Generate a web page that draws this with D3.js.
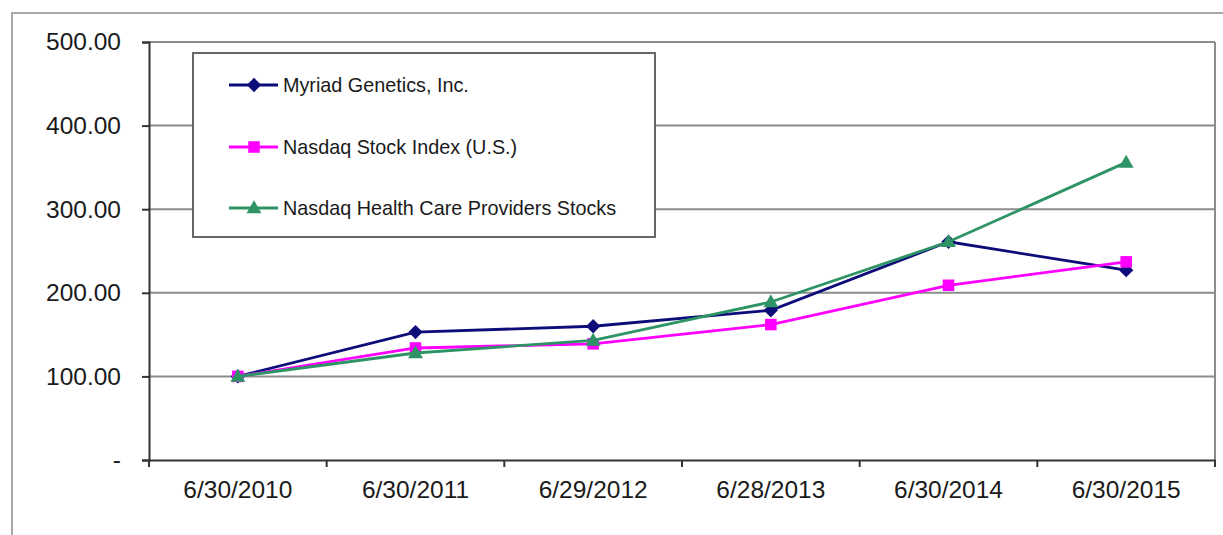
<!DOCTYPE html>
<html>
<head>
<meta charset="utf-8">
<script src="https://cdn.jsdelivr.net/npm/d3@7"></script>
<style>
  body { margin: 0; background: #fff; }
  svg { display: block; font-family: "Liberation Sans", Arial, sans-serif; }
</style>
</head>
<body>
<svg id="chart"></svg>
<script>
const dates = ["6/30/2010", "6/30/2011", "6/29/2012", "6/28/2013", "6/30/2014", "6/30/2015"];
const myriad = [100, 153, 160, 179, 261, 227];
const nasdaq = [100, 134, 139, 162, 209, 237];
const healthCare = [100, 128, 143, 189, 261, 356];
const yTicks = [0, 100, 200, 300, 400, 500];

const seriesList = [
  { name: "Myriad Genetics, Inc.", values: myriad, color: "#0d0d7a", marker: "diamond" },
  { name: "Nasdaq Stock Index (U.S.)", values: nasdaq, color: "#ff00ff", marker: "square" },
  { name: "Nasdaq Health Care Providers Stocks", values: healthCare, color: "#2e9466", marker: "triangle" }
];

const W = 1223, H = 535;
const plotLeft = 149, plotRight = 1215, plotTop = 42, plotBottom = 460;

const svg = d3.select("#chart").attr("width", W).attr("height", H);

// outer chart frame
svg.append("rect")
  .attr("x", 12).attr("y", 13)
  .attr("width", W + 20).attr("height", H + 20)
  .attr("fill", "none").attr("stroke", "#a8a8a8").attr("stroke-width", 2);

const x = d3.scaleBand().domain(dates).range([plotLeft, plotRight]);
const y = d3.scaleLinear().domain([0, 500]).range([plotBottom, plotTop]);

// gridlines
svg.append("g")
  .selectAll("line").data(yTicks.filter(d => d > 0)).join("line")
  .attr("x1", plotLeft).attr("x2", plotRight)
  .attr("y1", d => y(d)).attr("y2", d => y(d))
  .attr("stroke", "#8c8c8c").attr("stroke-width", 2);

// right border of plot
svg.append("line")
  .attr("x1", plotRight).attr("x2", plotRight).attr("y1", plotTop).attr("y2", plotBottom)
  .attr("stroke", "#8c8c8c").attr("stroke-width", 2);

// y axis
const yAxis = svg.append("g")
  .attr("transform", `translate(${plotLeft},0)`)
  .call(d3.axisLeft(y).tickValues(yTicks).tickSize(7).tickPadding(21)
    .tickFormat(d => d === 0 ? "-" : d.toFixed(2)));
yAxis.select(".domain").attr("stroke", "#333").attr("stroke-width", 2);
yAxis.selectAll(".tick line").attr("stroke", "#333").attr("stroke-width", 2);
yAxis.selectAll(".tick text")
  .attr("font-size", 24.5).attr("fill", "#1a1a1a")
  .attr("font-family", "'Liberation Sans', Arial, sans-serif");

// x axis: labels at band centers, ticks at band edges
const xAxis = svg.append("g")
  .attr("transform", `translate(0,${plotBottom})`)
  .call(d3.axisBottom(x).tickSize(0).tickPadding(21));
xAxis.select(".domain").attr("stroke", "#333").attr("stroke-width", 2);
xAxis.selectAll(".tick text")
  .attr("font-size", 24.5).attr("fill", "#1a1a1a")
  .attr("font-family", "'Liberation Sans', Arial, sans-serif");

const edges = dates.map(d => x(d)).concat([x.range()[1]]);
xAxis.selectAll("line.edge").data(edges).join("line")
  .attr("class", "edge")
  .attr("x1", d => d).attr("x2", d => d)
  .attr("y1", 0).attr("y2", 7)
  .attr("stroke", "#333").attr("stroke-width", 2);

const cx = d => x(d) + x.bandwidth() / 2;

function markerPath(type) {
  if (type === "diamond") return d3.symbol(d3.symbolDiamond2, 130)();
  if (type === "square") return d3.symbol(d3.symbolSquare2, 170)();
  return d3.symbol(d3.symbolTriangle2, 160)();
}

const line = d3.line()
  .x((v, i) => cx(dates[i]))
  .y(v => y(v));

seriesList.forEach(s => {
  const g = svg.append("g");
  g.append("path")
    .attr("d", line(s.values))
    .attr("fill", "none").attr("stroke", s.color).attr("stroke-width", 2.8);
  g.selectAll("path.mk").data(s.values).join("path")
    .attr("class", "mk")
    .attr("d", markerPath(s.marker))
    .attr("transform", (v, i) => `translate(${cx(dates[i])},${y(v) + (s.marker === "triangle" ? 1 : 0)})`)
    .attr("fill", s.color);
});

// legend
const legend = svg.append("g");
legend.append("rect")
  .attr("x", 193).attr("y", 53).attr("width", 462).attr("height", 184)
  .attr("fill", "#fff").attr("stroke", "#666").attr("stroke-width", 2);

const rowY = [85, 147, 208];
seriesList.forEach((s, i) => {
  const row = legend.append("g").attr("transform", `translate(0,${rowY[i]})`);
  row.append("line")
    .attr("x1", 229).attr("x2", 278).attr("y1", 0).attr("y2", 0)
    .attr("stroke", s.color).attr("stroke-width", 2.8);
  row.append("path")
    .attr("d", markerPath(s.marker))
    .attr("transform", `translate(254,${s.marker === "triangle" ? 1 : 0})`)
    .attr("fill", s.color);
  row.append("text")
    .attr("x", 283).attr("y", 0).attr("dy", "0.35em")
    .attr("font-size", 19.8).attr("fill", "#1a1a1a")
    .text(s.name);
});
</script>
</body>
</html>
